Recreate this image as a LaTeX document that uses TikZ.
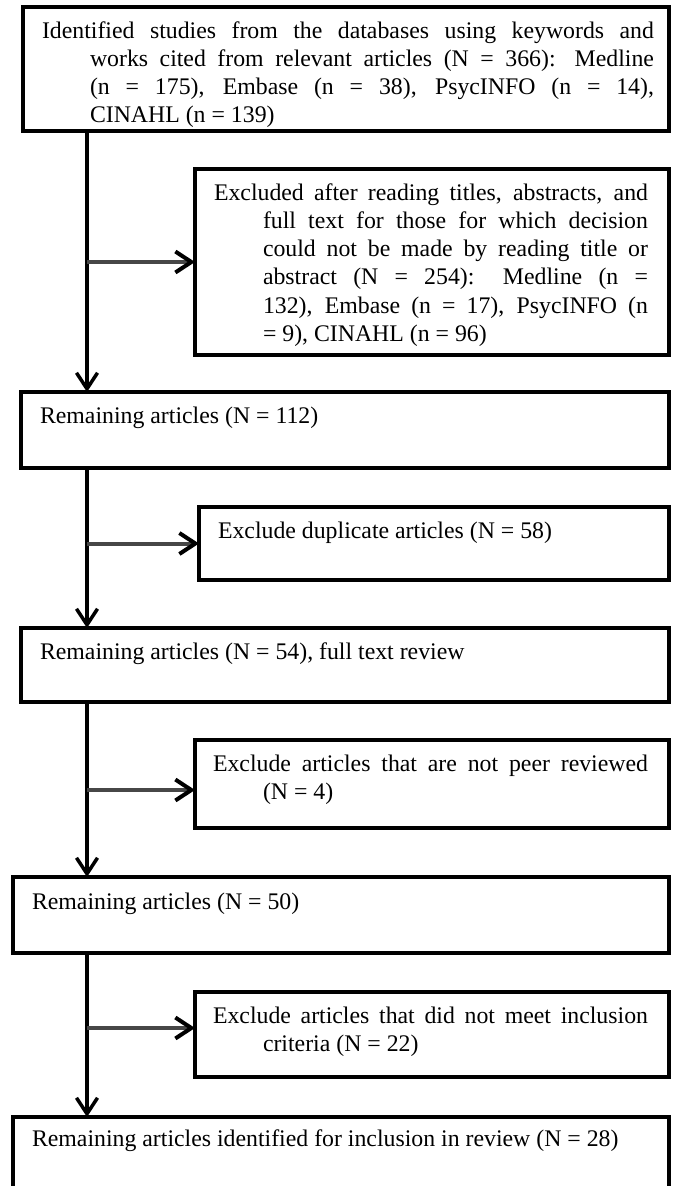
\documentclass[tikz,border=0pt]{standalone}
\usepackage{fontspec}
\setmainfont{Liberation Serif}
\usetikzlibrary{arrows.meta}
\begin{document}
\begin{tikzpicture}[x=1pt,y=-1pt,
  box/.style={draw=black, line width=4pt, rectangle, anchor=north west, inner sep=0pt, outer sep=0pt},
  txt/.style={anchor=base west, inner sep=0pt, outer sep=0pt, font=\fontsize{23.8pt}{28.3pt}\selectfont},
  para/.style={txt, align=justify},
  trunkarrow/.style={line width=3.5pt, draw=black, -{Straight Barb[length=16pt,width=21pt]}},
  brancharrow/.style={line width=4pt, draw=black!72, -{Straight Barb[length=16pt,width=21pt,color=black]}}
]
\useasboundingbox (0,0) rectangle (677,1186);
\clip (0,0) rectangle (677,1186);

% boxes
\node[box, minimum width=646pt, minimum height=124pt] (b1) at (23,7) {};
\node[box, minimum width=474pt, minimum height=186pt] (b2) at (195,169) {};
\node[box, minimum width=648pt, minimum height=76pt] (b3) at (21,392) {};
\node[box, minimum width=470pt, minimum height=73pt] (b4) at (199,507) {};
\node[box, minimum width=648pt, minimum height=74pt] (b5) at (21,628) {};
\node[box, minimum width=474pt, minimum height=88pt] (b6) at (195,740) {};
\node[box, minimum width=656pt, minimum height=76pt] (b7) at (13,877) {};
\node[box, minimum width=474pt, minimum height=85pt] (b8) at (195,992) {};
\node[box, minimum width=656pt, minimum height=110pt] (b9) at (13,1117) {};

% texts
\node[para, text width=612pt] (t1) at (42,38) {\hangindent=48pt\hangafter=1 Identified studies from the databases using keywords and\linebreak works cited from relevant articles (N = 366): Medline\linebreak (n = 175), Embase (n = 38), PsycINFO (n = 14),\linebreak CINAHL (n = 139)\par};
\node[para, text width=434pt] (t2) at (214,200) {\hangindent=49pt\hangafter=1 Excluded after reading titles, abstracts, and\linebreak full text for those for which decision\linebreak could not be made by reading title or\linebreak abstract (N = 254): Medline (n =\linebreak 132), Embase (n = 17), PsycINFO (n\linebreak = 9), CINAHL (n = 96)\par};
\node[txt] (t3) at (40,423) {Remaining articles (N = 112)};
\node[txt] (t4) at (218,538) {Exclude duplicate articles (N = 58)};
\node[txt] (t5) at (40,659) {Remaining articles (N = 54), full text review};
\node[para, text width=435pt] (t6) at (213,771) {\hangindent=50pt\hangafter=1 Exclude articles that are not peer reviewed\linebreak (N = 4)\par};
\node[txt] (t7) at (32,909) {Remaining articles (N = 50)};
\node[para, text width=435pt] (t8) at (213,1023) {\hangindent=50pt\hangafter=1 Exclude articles that did not meet inclusion\linebreak criteria (N = 22)\par};
\node[txt] (t9) at (32,1146) {Remaining articles identified for inclusion in review (N = 28)};

% trunk
\coordinate (tr) at (87,0);
\draw[trunkarrow] (b1.south -| tr) -- (b3.north -| tr);
\draw[trunkarrow] (b3.south -| tr) -- (b5.north -| tr);
\draw[trunkarrow] (b5.south -| tr) -- (b7.north -| tr);
\draw[trunkarrow] (b7.south -| tr) -- (b9.north -| tr);

% branches
\draw[brancharrow] (b2.west -| tr) -- (b2.west);
\draw[brancharrow] (b4.west -| tr) -- (b4.west);
\coordinate (c6) at (195,790);
\coordinate (c8) at (195,1028);
\draw[brancharrow] (c6 -| tr) -- (c6);
\draw[brancharrow] (c8 -| tr) -- (c8);
\end{tikzpicture}
\end{document}
